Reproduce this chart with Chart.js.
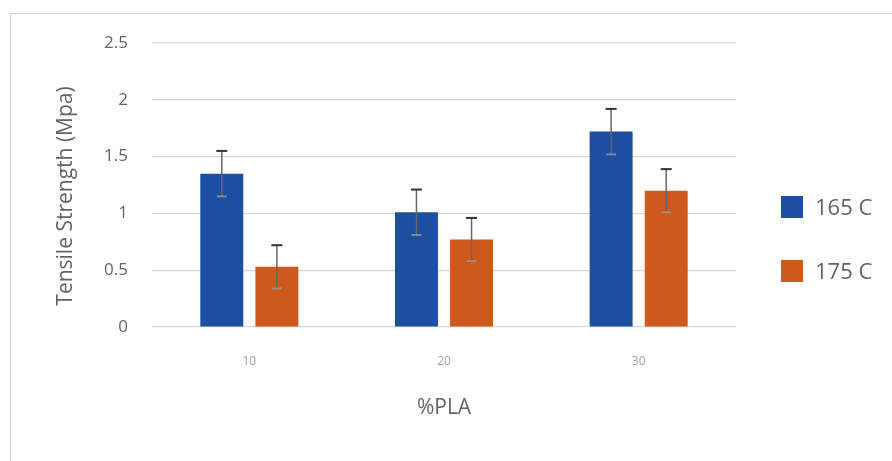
<!DOCTYPE html>
<html>
<head>
<meta charset="utf-8">
<script src="https://cdn.jsdelivr.net/npm/chart.js@4/dist/chart.umd.min.js"></script>
<style>
  html, body { margin: 0; padding: 0; background: #fff; }
  #wrap { position: relative; width: 892px; height: 461px; overflow: hidden; }
  #frame { position: absolute; left: 10px; top: 13px; width: 900px; height: 500px;
           border: 1.5px solid #d4d4d4; box-sizing: border-box; }
  canvas { position: absolute; left: 0; top: 0; }
  #legend { position: absolute; left: 781px; top: 196px; font-family: "Open Sans", sans-serif;
            font-size: 22px; color: #636363; }
  .item { position: relative; height: 64px; }
  .swatch { position: absolute; left: 0; top: 0; width: 22px; height: 22px; }
  .label { position: absolute; left: 34px; top: -5px; line-height: 30px; white-space: nowrap; }
</style>
</head>
<body>
<div id="wrap">
  <div id="frame"></div>
  <canvas id="myChart" width="892" height="461"></canvas>
  <div id="legend"></div>
</div>
<script>
// chart data
const categories = ['10', '20', '30'];
const seriesNames = ['165 C', '175 C'];
const strength165 = [1.35, 1.01, 1.72];
const strength175 = [0.53, 0.77, 1.20];
const error165 = [0.20, 0.20, 0.20];
const error175 = [0.19, 0.19, 0.19];
const yTickLabels = ['0', '0.5', '1', '1.5', '2', '2.5'];

const colors = ['#1c4fa1', '#cd5a1c'];
const textGray = '#636363';

// error bars, drawn from the data through the y scale
const errorBars = {
  id: 'errorBars',
  afterDatasetsDraw(chart) {
    const ctx = chart.ctx;
    const y = chart.scales.y;
    chart.data.datasets.forEach((ds, di) => {
      const meta = chart.getDatasetMeta(di);
      meta.data.forEach((bar, i) => {
        const hi = y.getPixelForValue(ds.data[i] + ds.errors[i]);
        const lo = y.getPixelForValue(ds.data[i] - ds.errors[i]);
        ctx.save();
        ctx.strokeStyle = '#666';
        ctx.lineWidth = 1.5;
        ctx.beginPath();
        ctx.moveTo(bar.x, hi);
        ctx.lineTo(bar.x, lo);
        ctx.stroke();
        ctx.strokeStyle = '#333';
        ctx.lineWidth = 2;
        ctx.beginPath();
        ctx.moveTo(bar.x - 5.5, hi);
        ctx.lineTo(bar.x + 5.5, hi);
        ctx.stroke();
        ctx.strokeStyle = 'rgba(150,150,150,0.8)';
        ctx.beginPath();
        ctx.moveTo(bar.x - 5, lo);
        ctx.lineTo(bar.x + 5, lo);
        ctx.stroke();
        ctx.restore();
      });
    });
  }
};

// y axis title, a bit below the plot centre like the original
const yTitle = {
  id: 'yTitle',
  afterDraw(chart) {
    const ctx = chart.ctx;
    const area = chart.chartArea;
    ctx.save();
    ctx.translate(66, (area.top + area.bottom) / 2 + 11);
    ctx.rotate(-Math.PI / 2);
    ctx.font = '21px "Open Sans", sans-serif';
    ctx.fillStyle = textGray;
    ctx.textAlign = 'center';
    ctx.textBaseline = 'middle';
    ctx.fillText('Tensile Strength (Mpa)', 0, 0);
    ctx.restore();
  }
};

const ctx = document.getElementById('myChart').getContext('2d');
const myChart = new Chart(ctx, {
  type: 'bar',
  data: {
    labels: categories,
    datasets: [
      { label: seriesNames[0], data: strength165, errors: error165, backgroundColor: colors[0] },
      { label: seriesNames[1], data: strength175, errors: error175, backgroundColor: colors[1] }
    ]
  },
  options: {
    responsive: false,
    animation: false,
    categoryPercentage: 0.566,
    barPercentage: 0.78,
    layout: { padding: { left: 0, right: 156, top: 43, bottom: 0 } },
    plugins: {
      legend: { display: false },
      tooltip: { enabled: false }
    },
    scales: {
      x: {
        grid: { display: false },
        border: { display: false },
        ticks: { color: '#a0a0a0', font: { family: 'Open Sans', size: 12 }, padding: 19 },
        title: { display: true, text: '%PLA', color: textGray,
                 font: { family: 'Open Sans', size: 21 }, padding: { top: 0, bottom: 40 } },
        afterFit(s) { s.height = 134; }
      },
      y: {
        min: 0,
        max: 2.5,
        ticks: {
          stepSize: 0.5,
          color: textGray,
          font: { family: 'Open Sans', size: 17 },
          padding: 24,
          callback: (v, i) => yTickLabels[i]
        },
        grid: { color: '#d6d6d6', lineWidth: 1.2, drawTicks: false },
        border: { display: false },
        afterFit(s) { s.width = 152; }
      }
    }
  },
  plugins: [errorBars, yTitle]
});

// legend built from the datasets
const legend = document.getElementById('legend');
myChart.data.datasets.forEach(ds => {
  const item = document.createElement('div');
  item.className = 'item';
  item.innerHTML = '<div class="swatch" style="background:' + ds.backgroundColor + '"></div>' +
                   '<div class="label">' + ds.label + '</div>';
  legend.appendChild(item);
});
</script>
</body>
</html>
